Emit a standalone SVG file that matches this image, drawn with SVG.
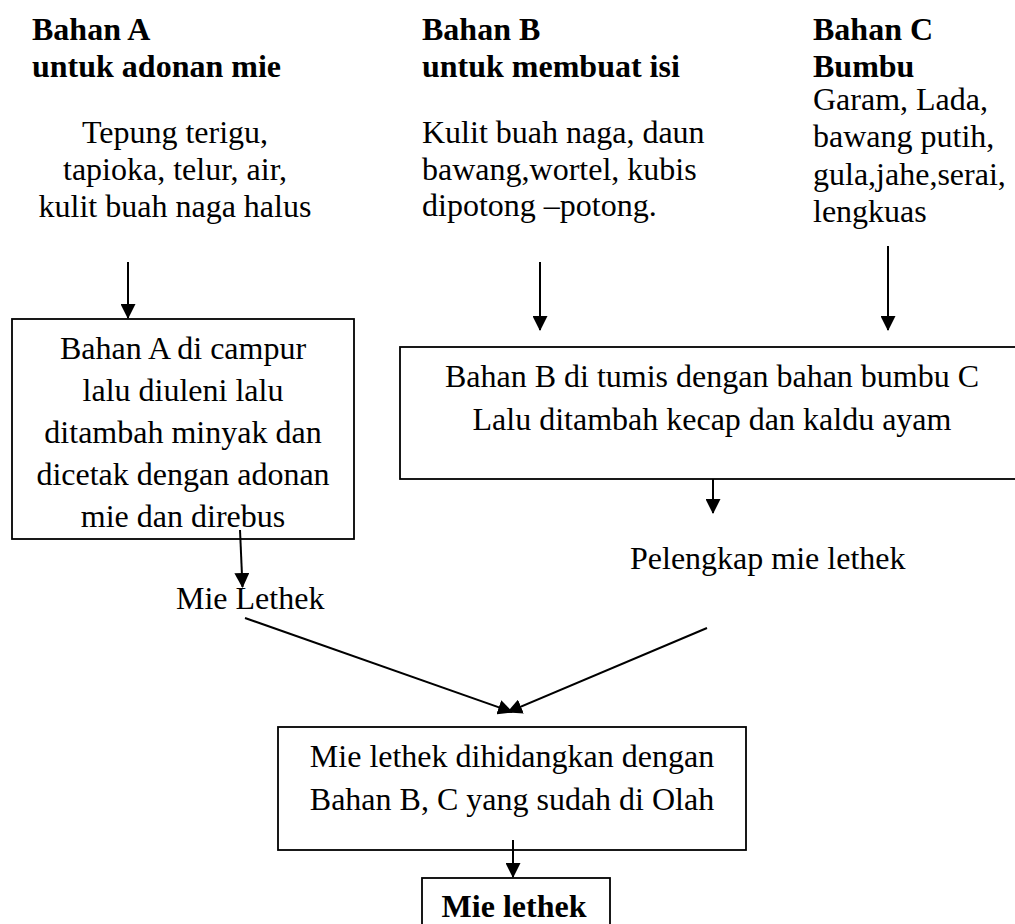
<svg xmlns="http://www.w3.org/2000/svg" width="1015" height="924" viewBox="0 0 1015 924">
<style>
text { font-family: "Liberation Serif", "Times New Roman", serif; font-size: 32px; fill: #000; }
.b { font-weight: bold; }
.c { text-anchor: middle; }
.box { fill: #fff; stroke: #000; stroke-width: 1.8; }
.con { stroke: #000; stroke-width: 2; fill: none; marker-end: url(#ah); }
</style>
<defs>
<marker id="ah" markerUnits="userSpaceOnUse" markerWidth="15" markerHeight="15" viewBox="0 0 15 15" refX="14" refY="7.5" orient="auto">
<path d="M0,0 L15,7.5 L0,15 z" fill="#000"/>
</marker>
</defs>
<rect width="1015" height="924" fill="#fff"/>

<g id="headA">
<text x="32" y="40" class="b">Bahan A</text>
<text x="32" y="77" class="b">untuk adonan mie</text>
</g>
<g id="headB">
<text x="422" y="40" class="b">Bahan B</text>
<text x="422" y="77" class="b">untuk membuat isi</text>
</g>
<g id="headC">
<text x="813" y="40" class="b">Bahan C</text>
<text x="813" y="77" class="b">Bumbu</text>
</g>

<g id="bahanA">
<text x="175" y="143" class="c">Tepung terigu,</text>
<text x="175" y="180" class="c">tapioka, telur, air,</text>
<text x="175" y="217" class="c">kulit buah naga halus</text>
</g>
<g id="bahanB">
<text x="422" y="143">Kulit buah naga, daun</text>
<text x="422" y="180">bawang,wortel, kubis</text>
<text x="422" y="216">dipotong –potong.</text>
</g>
<g id="bahanC">
<text x="813" y="110">Garam, Lada,</text>
<text x="813" y="147">bawang putih,</text>
<text x="813" y="185">gula,jahe,serai,</text>
<text x="813" y="222">lengkuas</text>
</g>

<g id="boxA">
<rect class="box" x="12" y="319" width="342" height="220"/>
<text x="183" y="359" class="c">Bahan A di campur</text>
<text x="183" y="401" class="c">lalu diuleni lalu</text>
<text x="183" y="443" class="c">ditambah minyak dan</text>
<text x="183" y="485" class="c">dicetak dengan adonan</text>
<text x="183" y="527" class="c">mie dan direbus</text>
</g>

<g id="boxB">
<rect class="box" x="400" y="347" width="620" height="132"/>
<text x="712" y="387" class="c">Bahan B di tumis dengan bahan bumbu C</text>
<text x="712" y="430" class="c">Lalu ditambah kecap dan kaldu ayam</text>
</g>

<g id="mieLethek">
<text x="176" y="609">Mie Lethek</text>
</g>
<g id="pelengkap">
<text x="630" y="569">Pelengkap mie lethek</text>
</g>

<g id="boxServe">
<rect class="box" x="278" y="727" width="468" height="123"/>
<text x="512" y="767" class="c">Mie lethek dihidangkan dengan</text>
<text x="512" y="810" class="c">Bahan B, C yang sudah di Olah</text>
</g>

<g id="final">
<rect class="box" x="422" y="878" width="188" height="60"/>
<text x="514" y="917" class="c b">Mie lethek</text>
</g>

<g id="connectors">
<line class="con" x1="128" y1="262" x2="128" y2="318"/>
<line class="con" x1="540" y1="262" x2="540" y2="330"/>
<line class="con" x1="888" y1="246" x2="888" y2="330"/>
<line class="con" x1="240" y1="530" x2="242.5" y2="587"/>
<line class="con" x1="713" y1="479" x2="713" y2="513"/>
<line class="con" x1="245" y1="618" x2="512" y2="712"/>
<line class="con" x1="707" y1="628" x2="508" y2="712"/>
<line class="con" x1="513" y1="840" x2="513" y2="877"/>
</g>
</svg>
